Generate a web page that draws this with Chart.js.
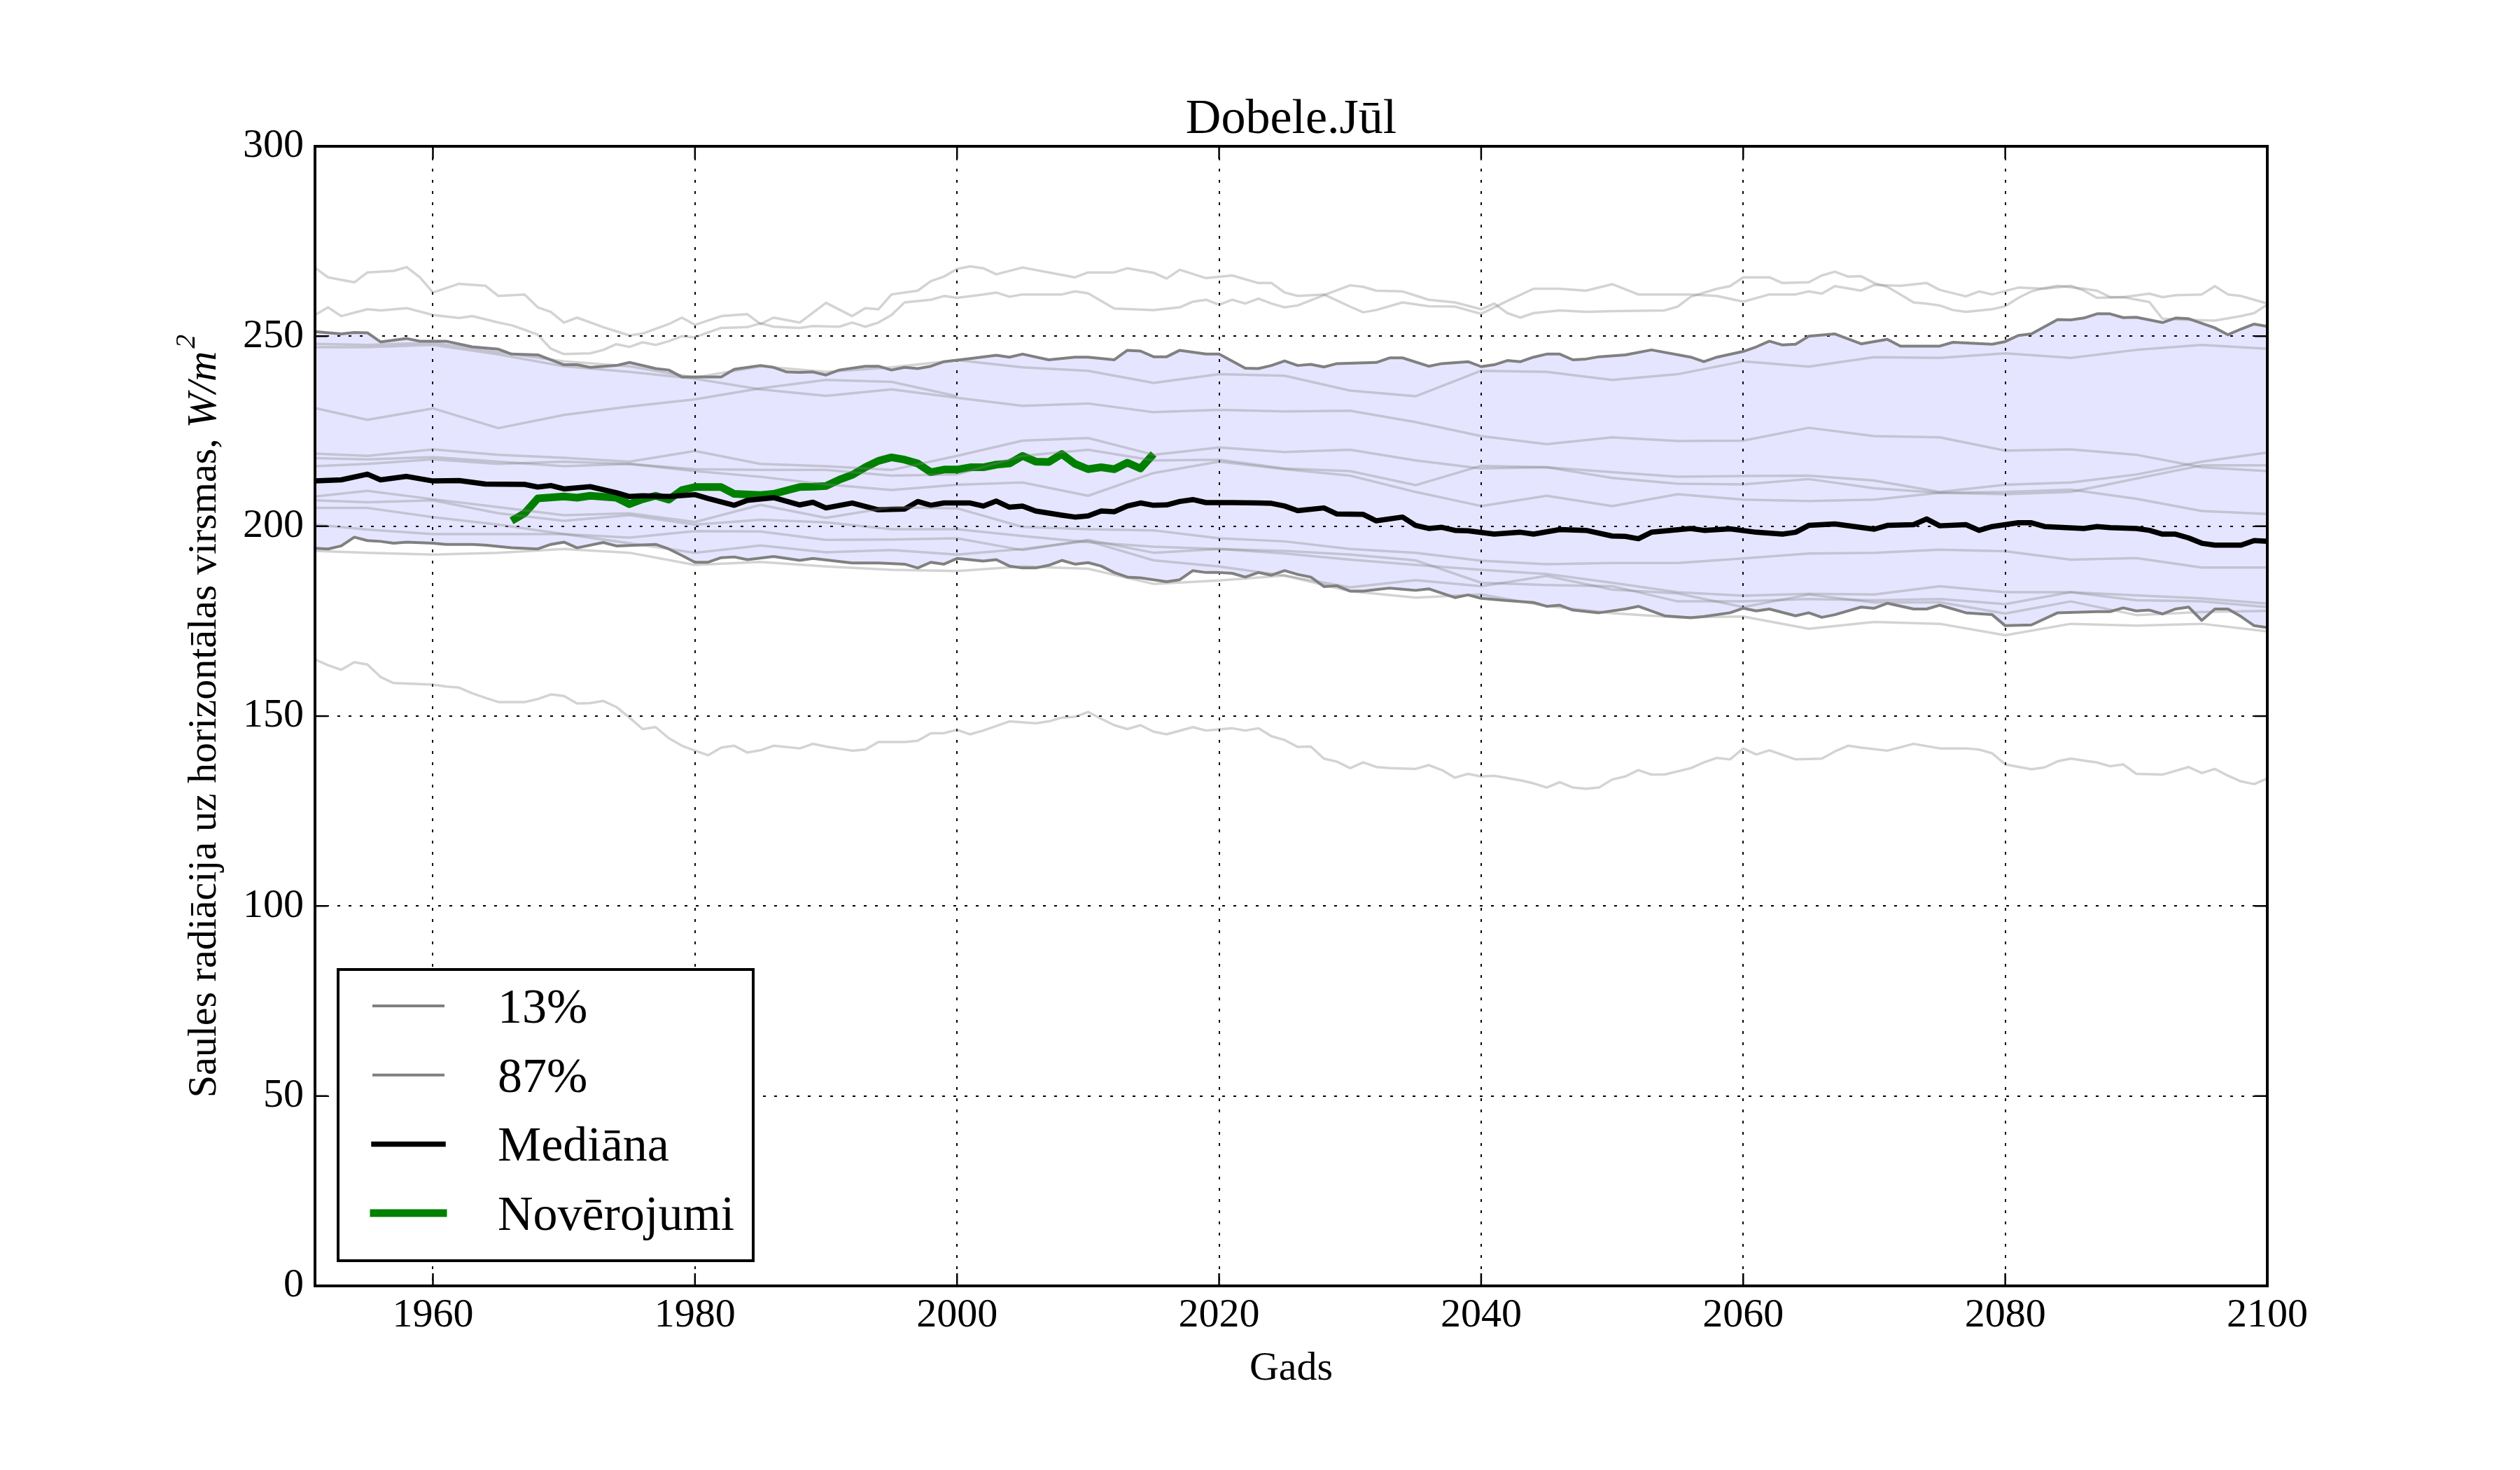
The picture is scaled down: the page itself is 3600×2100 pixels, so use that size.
<!DOCTYPE html>
<html>
<head>
<meta charset="utf-8">
<title>Dobele.Jūl</title>
<script src="https://cdn.jsdelivr.net/npm/chart.js@4.4.0/dist/chart.umd.min.js"></script>
<style>
  html, body { margin: 0; padding: 0; background: #fff; }
  #wrap { width: 3600px; height: 2100px; }
</style>
</head>
<body>
<div id="wrap"><canvas id="chart" width="3600" height="2100"></canvas></div>
<script>
// texts
const TITLE = 'Dobele.Jūl';
const X_LABEL = 'Gads';
const Y_LABEL = 'Saules radiācija uz horizontālas virsmas, ';
const Y_UNIT = 'W/m';
const Y_UNIT_SUP = '2';
const LEGEND_LABELS = ['13%', '87%', 'Mediāna', 'Novērojumi'];

// axes
const X_MIN = 1951, X_MAX = 2100;
const X_TICKS = [1960, 1980, 2000, 2020, 2040, 2060, 2080, 2100];
const Y_TICKS = [0, 50, 100, 150, 200, 250, 300];

// ensemble members read every 5 years
const MEMBER_YEARS = [1951, 1955, 1960, 1965, 1970, 1975, 1980, 1985, 1990, 1995, 2000,
  2005, 2010, 2015, 2020, 2025, 2030, 2035, 2040, 2045, 2050,
  2055, 2060, 2065, 2070, 2075, 2080, 2085, 2090, 2095, 2100];
const MEMBER_U0 = [248.0, 247.7, 248.3, 245.8, 243.4, 242.1, 239.1, 242.1, 240.6, 241.8, 243.7,
  241.8, 240.9, 237.7, 240.0, 239.6, 235.7, 234.2, 240.9, 240.6, 238.5,
  240.0, 243.4, 242.0, 244.5, 244.3, 245.5, 244.3, 246.4, 247.7, 246.7];
const MEMBER_U1 = [247.1, 247.1, 247.7, 245.2, 242.1, 240.6, 238.8, 236.0, 234.3, 236.0, 233.8,
  231.7, 232.3, 230.0, 230.6, 230.2, 230.4, 227.4, 223.7, 221.6, 223.4,
  222.4, 222.5, 225.9, 223.7, 223.4, 219.9, 220.2, 218.8, 215.5, 214.5];
const MEMBER_U2 = [231.1, 228.0, 231.0, 225.8, 229.3, 231.5, 233.4, 236.3, 238.5, 238.0, 234.2];
const MEMBER_M1 = [219.1, 218.5, 220.2, 218.8, 218.0, 217.0, 219.8, 216.4, 215.8, 214.8, 218.5,
  222.5, 223.2, 218.8, 220.7, 219.5, 220.1, 217.3, 215.2, 215.5, 212.7,
  211.2, 211.0, 212.4, 210.0, 208.8, 209.0, 209.6, 207.2, 204.0, 203.2];
const MEMBER_M2 = [217.9, 217.6, 218.2, 217.0, 215.8, 216.4, 215.0, 214.8, 214.8, 213.3, 213.6,
  218.5, 220.1, 217.3, 217.5, 215.2, 214.5, 210.8, 215.9, 215.5, 214.2,
  213.0, 213.2, 213.3, 212.0, 209.0, 210.9, 211.5, 213.6, 217.0, 219.4];
const MEMBER_M3 = [215.8, 216.4, 217.6, 216.4, 217.0, 216.4, 214.5, 213.0, 211.0, 209.5, 210.9,
  211.5, 208.0, 214.0, 217.0, 215.0, 213.3, 209.0, 205.3, 208.0, 205.3,
  208.4, 207.0, 206.6, 207.0, 208.8, 208.4, 209.0, 212.5, 216.0, 216.0];
const MEMBER_D1 = [207.8, 209.3, 207.1, 205.0, 202.9, 203.4, 201.1, 205.6, 202.2, 205.0, 204.7,
  199.8, 199.2, 198.9, 196.8, 196.0, 194.0, 193.0, 190.9, 190.0, 190.3,
  190.3, 191.5, 192.8, 193.0, 193.8, 193.4, 191.2, 191.6, 189.1, 189.1];
const MEMBER_D2 = [206.8, 206.3, 206.8, 203.4, 201.4, 202.9, 200.4, 201.7, 201.0, 199.2, 199.2,
  197.4, 195.8, 194.6, 194.0, 192.8, 191.2, 189.8, 188.5, 187.4, 185.1,
  182.6, 181.7, 182.2, 182.0, 184.2, 182.6, 182.6, 181.8, 181.0, 179.6];
const MEMBER_D3 = [204.8, 204.8, 202.4, 200.4, 197.9, 197.0, 198.7, 198.6, 196.4, 196.5, 196.8,
  193.7, 196.4, 193.0, 194.0, 193.5, 192.5, 191.0, 185.1, 184.5, 184.2,
  180.2, 180.2, 180.8, 180.5, 180.8, 179.5, 182.6, 180.5, 180.2, 178.7];
const MEMBER_D4 = [200.4, 199.1, 197.9, 197.9, 197.9, 195.5, 193.0, 194.9, 193.1, 193.7, 192.5,
  194.0, 196.1, 191.0, 189.4, 187.0, 183.9, 185.8, 184.2, 186.9, 183.3,
  182.3, 178.7, 182.0, 179.9, 180.0, 177.0, 180.2, 176.6, 177.4, 177.7];
const MEMBER_D5 = [193.5, 193.0, 192.5, 193.0, 194.0, 193.0, 189.8, 190.6, 189.4, 188.5, 188.2,
  189.4, 188.8, 184.8, 185.7, 187.0, 182.9, 181.2, 182.0, 179.0, 177.1,
  176.0, 176.2, 173.0, 174.8, 174.3, 171.3, 174.3, 173.8, 174.3, 172.3];

// outer members, [year, value]
const MEMBER_TOP_A = [[1951,268.0],[1952,265.5],[1954,264.2],[1955,266.8],[1957,267.2],[1958,268.2],[1959,265.5],[1960,261.5],
  [1962,263.8],[1964,263.3],[1965,260.6],[1967,261.0],[1968,257.6],[1969,256.4],[1970,253.6],[1971,254.9],
  [1973,252.4],[1975,250.2],[1976,250.7],[1978,253.2],[1979,254.9],[1980,253.0],[1982,255.3],[1984,255.8],
  [1985,253.2],[1986,254.9],[1988,253.6],[1990,258.8],[1992,255.3],[1993,257.4],[1994,257.1],[1995,261.0],
  [1997,262.0],[1998,264.5],[1999,265.7],[2000,267.7],[2001,268.4],[2002,267.9],[2003,266.3],[2005,268.1],
  [2007,266.8],[2009,265.5],[2010,266.8],[2012,266.8],[2013,267.9],[2015,266.7],[2016,265.2],[2017,267.5],
  [2019,265.3],[2021,266.0],[2023,264.0],[2024,264.0],[2025,261.5],[2026,260.6],[2028,261.0],[2030,257.8],
  [2031,256.3],[2032,256.9],[2034,258.9],[2036,257.9],[2038,257.8],[2040,255.9],[2042,259.3],[2044,262.5],
  [2046,262.5],[2048,262.0],[2050,263.7],[2052,261.0],[2056,261.0],[2058,260.6],[2060,259.1],[2062,261.0],
  [2064,261.0],[2065,261.8],[2066,261.2],[2067,263.2],[2069,262.0],[2070,263.5],[2072,263.3],[2074,264.0],
  [2075,262.2],[2077,260.5],[2078,261.8],[2079,261.0],[2081,262.8],[2083,262.5],[2085,263.3],[2086,262.0],
  [2087,260.1],[2089,260.3],[2091,259.0],[2092,254.6],[2094,254.3],[2096,254.1],[2098,255.3],[2099,256.1],[2100,258.3]];
const MEMBER_TOP_B = [[1951,255.6],[1952,257.6],[1953,255.3],[1955,257.1],[1956,256.8],[1958,257.4],[1960,255.6],[1962,254.8],
  [1963,255.3],[1965,253.6],[1966,252.9],[1967,251.7],[1968,250.4],[1969,246.7],[1970,245.3],[1972,245.5],
  [1973,246.4],[1974,247.9],[1975,247.2],[1976,248.4],[1977,247.7],[1978,248.7],[1979,250.0],[1980,249.7],
  [1981,251.0],[1982,252.2],[1984,252.4],[1985,253.4],[1986,252.5],[1988,252.2],[1989,252.7],[1991,252.5],
  [1992,253.6],[1993,252.5],[1994,253.6],[1995,255.6],[1996,258.9],[1998,259.6],[1999,260.6],[2000,260.1],
  [2002,261.0],[2003,261.5],[2004,260.4],[2005,261.0],[2008,261.0],[2009,261.8],[2010,261.3],[2012,257.3],
  [2015,256.9],[2017,257.6],[2018,259.1],[2019,259.6],[2020,258.3],[2021,259.6],[2022,258.6],[2023,259.9],
  [2024,258.6],[2025,257.6],[2026,258.1],[2028,260.8],[2030,263.4],[2031,263.0],[2032,262.0],[2034,261.8],
  [2035,260.7],[2036,259.6],[2038,258.9],[2040,257.1],[2041,258.6],[2042,256.1],[2043,254.9],[2044,256.1],
  [2046,256.8],[2048,256.4],[2050,256.6],[2054,256.8],[2055,257.8],[2056,260.4],[2058,262.5],[2059,263.2],
  [2060,265.5],[2062,265.5],[2063,264.0],[2065,264.2],[2066,266.0],[2067,267.0],[2068,265.7],[2069,265.8],
  [2070,264.0],[2071,263.0],[2072,261.0],[2073,258.9],[2074,258.6],[2075,258.1],[2076,256.9],[2077,256.4],
  [2079,257.1],[2080,257.9],[2081,260.1],[2082,261.8],[2083,262.7],[2084,263.3],[2086,262.5],[2087,262.0],
  [2088,260.3],[2089,260.3],[2091,261.2],[2092,260.3],[2093,260.8],[2095,261.0],[2096,263.2],[2097,261.0],
  [2098,260.6],[2099,259.6],[2100,258.6]];
const MEMBER_LOW = [[1951,164.9],[1952,163.4],[1953,162.2],[1954,164.2],[1955,163.6],[1956,160.3],[1957,158.7],[1960,158.3],
  [1961,157.8],[1962,157.5],[1963,156.0],[1964,154.8],[1965,153.7],[1967,153.7],[1968,154.5],[1969,155.7],
  [1970,155.3],[1971,153.3],[1972,153.4],[1973,154.0],[1974,152.4],[1975,149.6],[1976,146.6],[1977,147.1],
  [1978,144.2],[1979,142.2],[1980,140.9],[1981,139.7],[1982,141.7],[1983,142.2],[1984,140.4],[1985,141.0],
  [1986,142.2],[1988,141.5],[1989,142.7],[1990,142.0],[1992,140.9],[1993,141.2],[1994,143.2],[1996,143.2],
  [1997,143.5],[1998,145.5],[1999,145.5],[2000,146.4],[2001,145.2],[2002,146.2],[2004,148.6],[2006,148.1],
  [2007,148.6],[2008,149.6],[2009,149.8],[2010,151.1],[2011,149.3],[2012,147.6],[2013,146.6],[2014,147.6],
  [2015,145.9],[2016,145.2],[2018,147.1],[2019,146.2],[2021,146.8],[2022,146.2],[2023,146.8],[2024,144.7],
  [2025,143.7],[2026,141.9],[2027,142.0],[2028,138.8],[2029,138.0],[2030,136.3],[2031,137.8],[2032,136.6],
  [2033,136.3],[2035,136.1],[2036,137.1],[2037,135.8],[2038,133.8],[2039,134.8],[2040,134.1],[2041,134.3],
  [2043,133.1],[2044,132.3],[2045,131.2],[2046,132.6],[2047,131.2],[2048,130.9],[2049,131.2],[2050,133.3],
  [2051,134.1],[2052,135.8],[2053,134.6],[2054,134.6],[2056,136.3],[2057,137.8],[2058,139.0],[2059,138.6],
  [2060,141.5],[2061,139.9],[2062,141.0],[2064,138.6],[2066,138.8],[2067,140.7],[2068,142.2],[2069,141.7],
  [2071,140.9],[2073,142.7],[2075,141.5],[2077,141.5],[2078,141.2],[2079,140.2],[2080,137.3],[2082,136.0],
  [2083,136.5],[2084,138.1],[2085,138.8],[2087,137.8],[2088,136.8],[2089,137.3],[2090,134.8],[2092,134.6],
  [2093,135.6],[2094,136.6],[2095,135.0],[2096,136.1],[2097,134.3],[2098,132.8],[2099,132.1],[2100,133.6]];

// percentiles
const P87 = [[1951,251.2],[1953,250.6],[1954,251.0],[1955,250.9],[1956,248.5],[1958,249.4],[1959,248.7],[1961,248.7],
  [1963,247.2],[1965,246.6],[1966,245.3],[1968,245.1],[1970,242.5],[1971,242.5],[1972,241.8],[1974,242.3],
  [1975,243.1],[1977,241.5],[1978,241.1],[1979,239.3],[1982,239.3],[1983,241.3],[1985,242.3],[1986,241.8],
  [1987,240.6],[1988,240.5],[1989,240.6],[1990,239.8],[1991,241.1],[1993,242.1],[1994,242.1],[1995,241.1],
  [1996,241.8],[1997,241.5],[1998,242.1],[1999,243.3],[2001,244.1],[2003,245.0],[2004,244.5],[2005,245.3],
  [2007,243.8],[2009,244.5],[2010,244.5],[2012,243.8],[2013,246.3],[2014,246.1],[2015,244.6],[2016,244.6],
  [2017,246.3],[2019,245.3],[2020,245.3],[2022,241.6],[2023,241.5],[2024,242.3],[2025,243.5],[2026,242.3],
  [2027,242.6],[2028,241.9],[2029,242.8],[2032,243.1],[2033,244.3],[2034,244.3],[2036,242.1],[2037,242.8],
  [2039,243.3],[2040,242.0],[2041,242.5],[2042,243.6],[2043,243.3],[2044,244.5],[2045,245.3],[2046,245.3],
  [2047,243.8],[2048,244.0],[2049,244.6],[2051,245.1],[2053,246.4],[2056,244.5],[2057,243.3],[2058,244.5],
  [2060,246.0],[2061,247.2],[2062,248.7],[2063,247.7],[2064,247.9],[2065,250.0],[2067,250.6],[2069,248.0],
  [2071,249.2],[2072,247.4],[2075,247.4],[2076,248.4],[2079,247.9],[2080,248.6],[2081,250.2],[2082,250.6],
  [2084,254.4],[2085,254.3],[2086,254.8],[2087,255.9],[2088,255.9],[2089,254.9],[2090,255.0],[2092,253.6],
  [2093,254.8],[2094,254.6],[2096,252.2],[2097,250.4],[2098,251.9],[2099,253.2],[2100,252.6]];
const P13 = [[1951,194.2],[1952,194.0],[1953,194.8],[1954,197.1],[1955,196.2],[1956,196.0],[1957,195.5],[1958,195.8],
  [1960,195.5],[1961,195.2],[1963,195.2],[1964,195.0],[1966,194.3],[1968,194.0],[1969,195.2],[1970,195.8],
  [1971,194.3],[1973,195.7],[1974,194.8],[1977,195.2],[1978,194.0],[1979,192.3],[1980,190.5],[1981,190.5],
  [1982,191.7],[1983,191.9],[1984,191.2],[1986,192.0],[1988,191.0],[1989,191.5],[1992,190.3],[1994,190.3],
  [1996,190.0],[1997,189.0],[1998,190.5],[1999,190.0],[2000,191.5],[2002,190.8],[2003,191.2],[2004,189.5],
  [2005,189.0],[2006,189.0],[2007,189.7],[2008,191.0],[2009,190.0],[2010,190.4],[2011,189.5],[2012,187.8],
  [2013,186.6],[2014,186.4],[2016,185.4],[2017,185.9],[2018,188.3],[2019,187.8],[2020,187.8],[2021,187.6],
  [2022,186.6],[2023,187.8],[2024,187.1],[2025,188.3],[2026,187.3],[2027,186.6],[2028,184.1],[2029,184.3],
  [2030,182.9],[2031,182.9],[2032,183.3],[2033,183.7],[2034,183.4],[2035,183.1],[2036,183.5],[2038,181.2],
  [2039,181.9],[2040,181.0],[2042,180.4],[2044,179.9],[2045,178.9],[2046,179.2],[2047,177.9],[2049,177.2],
  [2051,178.2],[2052,178.9],[2054,176.4],[2056,175.9],[2057,176.2],[2059,177.2],[2060,178.4],[2061,177.7],
  [2062,178.2],[2064,176.4],[2065,177.2],[2066,176.0],[2067,176.7],[2069,178.7],[2070,178.4],[2071,179.7],
  [2073,178.2],[2074,178.2],[2075,179.2],[2077,177.2],[2079,176.7],[2080,173.8],[2082,174.0],[2084,177.2],
  [2087,177.5],[2088,177.5],[2089,178.5],[2090,177.7],[2091,177.9],[2092,176.9],[2093,178.2],[2094,178.7],
  [2095,175.2],[2096,178.2],[2097,178.2],[2098,176.2],[2099,173.8],[2100,173.3]];

const MEDIAN = [[1951,211.9],[1953,212.2],[1955,213.7],[1956,212.2],[1958,213.1],[1960,211.9],[1962,212.0],[1964,211.1],
  [1967,211.0],[1968,210.3],[1969,210.7],[1970,209.8],[1972,210.4],[1974,208.8],[1975,207.8],[1976,208.0],
  [1978,207.8],[1980,208.3],[1981,207.3],[1983,205.5],[1984,206.8],[1986,207.5],[1988,205.6],[1989,206.3],
  [1990,204.8],[1992,206.1],[1994,204.3],[1996,204.5],[1997,206.5],[1998,205.5],[1999,206.1],[2001,206.1],
  [2002,205.3],[2003,206.6],[2004,205.0],[2005,205.3],[2006,204.0],[2008,202.9],[2009,202.4],[2010,202.7],
  [2011,204.0],[2012,203.8],[2013,205.3],[2014,206.1],[2015,205.5],[2016,205.6],[2017,206.5],[2018,207.0],
  [2019,206.2],[2021,206.2],[2023,206.1],[2024,206.0],[2025,205.3],[2026,204.1],[2028,204.8],[2029,203.2],
  [2031,203.1],[2032,201.4],[2034,202.4],[2035,200.2],[2036,199.4],[2037,199.7],[2038,198.9],[2039,198.8],
  [2041,197.9],[2043,198.4],[2044,197.9],[2046,199.1],[2048,198.9],[2050,197.4],[2051,197.3],[2052,196.7],
  [2053,198.4],[2056,199.4],[2057,198.9],[2059,199.3],[2061,198.4],[2063,197.9],[2064,198.4],[2065,200.2],
  [2067,200.6],[2070,199.2],[2071,200.2],[2073,200.4],[2074,201.9],[2075,200.1],[2077,200.4],[2078,198.9],
  [2079,199.9],[2081,200.9],[2082,200.9],[2083,199.9],[2086,199.4],[2087,199.9],[2088,199.6],[2090,199.4],
  [2091,198.9],[2092,197.9],[2093,197.9],[2094,196.9],[2095,195.5],[2096,195.0],[2098,195.0],[2099,196.2],[2100,196.0]];

const OBSERVED = [[1966,201.4],[1967,203.4],[1968,207.3],[1970,207.8],[1971,207.5],[1972,208.0],[1974,207.5],[1975,205.8],
  [1976,207.1],[1977,208.0],[1978,207.0],[1979,209.5],[1980,210.3],[1982,210.3],[1983,208.5],[1985,208.2],
  [1986,208.5],[1988,210.3],[1989,210.4],[1990,210.6],[1991,212.2],[1992,213.5],[1993,215.5],[1994,217.2],
  [1995,218.1],[1996,217.5],[1997,216.5],[1998,214.2],[1999,214.9],[2000,214.9],[2001,215.5],[2002,215.5],
  [2003,216.2],[2004,216.5],[2005,218.5],[2006,217.0],[2007,216.9],[2008,219.0],[2009,216.4],[2010,215.0],
  [2011,215.5],[2012,215.0],[2013,216.7],[2014,215.2],[2015,219.0]];

const FONT = 'Liberation Serif';
const MEMBER_COLOR = 'rgba(128,128,128,0.35)';
const PCT_COLOR = '#808080';
const FILL_COLOR = 'rgba(0,0,255,0.1)';
const OBS_COLOR = '#008000';

const pairs = list => list.map(([x, y]) => ({ x, y }));
const onGrid = vals => vals.map((y, i) => ({ x: MEMBER_YEARS[i], y }));

function line(label, data, color, width) {
  return {
    label, data, borderColor: color, borderWidth: width,
    pointRadius: 0, tension: 0, fill: false, spanGaps: false,
    borderJoinStyle: 'round', borderCapStyle: 'butt'
  };
}

const datasets = [
  line('m_top_a', pairs(MEMBER_TOP_A), MEMBER_COLOR, 3.5),
  line('m_top_b', pairs(MEMBER_TOP_B), MEMBER_COLOR, 3.5),
  line('m_low', pairs(MEMBER_LOW), MEMBER_COLOR, 3.5),
  ...[MEMBER_U0, MEMBER_U1, MEMBER_U2, MEMBER_M1, MEMBER_M2, MEMBER_M3,
      MEMBER_D1, MEMBER_D2, MEMBER_D3, MEMBER_D4, MEMBER_D5]
    .map((m, i) => line('m' + i, onGrid(m), MEMBER_COLOR, 3.5)),
];
const iP13 = datasets.push(line(LEGEND_LABELS[0], pairs(P13), PCT_COLOR, 4)) - 1;
const iP87 = datasets.push(line(LEGEND_LABELS[1], pairs(P87), PCT_COLOR, 4)) - 1;
datasets.push(line(LEGEND_LABELS[2], pairs(MEDIAN), '#000', 7.5));
datasets.push(line(LEGEND_LABELS[3], pairs(OBSERVED), OBS_COLOR, 11));

const legendStyles = [
  { color: PCT_COLOR, width: 4 },
  { color: PCT_COLOR, width: 4 },
  { color: '#000', width: 7.5 },
  { color: OBS_COLOR, width: 11 }
];

// band between the two percentile lines, under all lines
const bandFill = {
  id: 'bandFill',
  beforeDatasetsDraw(chart) {
    const up = chart.getDatasetMeta(iP87).data;
    const lo = chart.getDatasetMeta(iP13).data;
    const a = chart.chartArea, ctx = chart.ctx;
    ctx.save();
    ctx.beginPath();
    ctx.rect(a.left, a.top, a.right - a.left, a.bottom - a.top);
    ctx.clip();
    ctx.beginPath();
    up.forEach((p, i) => i ? ctx.lineTo(p.x, p.y) : ctx.moveTo(p.x, p.y));
    for (let i = lo.length - 1; i >= 0; i--) ctx.lineTo(lo[i].x, lo[i].y);
    ctx.closePath();
    ctx.fillStyle = FILL_COLOR;
    ctx.fill();
    ctx.restore();
  }
};

// frame, inward ticks on all sides, titles and legend
const decor = {
  id: 'decor',
  afterDraw(chart) {
    const ctx = chart.ctx, a = chart.chartArea;
    const xs = chart.scales.x, ys = chart.scales.y;
    const cx = (a.left + a.right) / 2, cy = (a.top + a.bottom) / 2;
    ctx.save();
    ctx.strokeStyle = '#000';
    ctx.lineWidth = 2.5;
    ctx.beginPath();
    X_TICKS.forEach(v => {
      const x = xs.getPixelForValue(v);
      ctx.moveTo(x, a.bottom); ctx.lineTo(x, a.bottom - 18);
      ctx.moveTo(x, a.top); ctx.lineTo(x, a.top + 18);
    });
    Y_TICKS.forEach(v => {
      const y = ys.getPixelForValue(v);
      ctx.moveTo(a.left, y); ctx.lineTo(a.left + 18, y);
      ctx.moveTo(a.right, y); ctx.lineTo(a.right - 18, y);
    });
    ctx.stroke();
    ctx.lineWidth = 4;
    ctx.strokeRect(a.left, a.top, a.right - a.left, a.bottom - a.top);

    ctx.fillStyle = '#000';
    ctx.textBaseline = 'alphabetic';
    ctx.textAlign = 'center';
    ctx.font = `70px "${FONT}"`;
    ctx.fillText(TITLE, cx, a.top - 19);
    ctx.font = `58px "${FONT}"`;
    ctx.fillText(X_LABEL, cx, a.bottom + 134);

    // y label with italic unit
    ctx.save();
    ctx.translate(308, cy);
    ctx.rotate(-Math.PI / 2);
    ctx.textAlign = 'left';
    const fReg = `58px "${FONT}"`, fIt = `italic 60px "${FONT}"`, fSup = `italic 40px "${FONT}"`;
    ctx.font = fReg; const w1 = ctx.measureText(Y_LABEL).width;
    ctx.font = fIt; const w2 = ctx.measureText(Y_UNIT).width;
    ctx.font = fSup; const w3 = ctx.measureText(Y_UNIT_SUP).width;
    let x = -(w1 + w2 + w3 + 4) / 2;
    ctx.font = fReg; ctx.fillText(Y_LABEL, x, 0); x += w1;
    ctx.font = fIt; ctx.fillText(Y_UNIT, x, 0); x += w2 + 4;
    ctx.font = fSup; ctx.fillText(Y_UNIT_SUP, x, -30);
    ctx.restore();

    // legend
    const bx = 483, by = 1385, bw = 593, bh = 416;
    ctx.fillStyle = '#fff';
    ctx.fillRect(bx, by, bw, bh);
    ctx.lineWidth = 4;
    ctx.strokeStyle = '#000';
    ctx.strokeRect(bx, by, bw, bh);
    ctx.font = `70px "${FONT}"`;
    ctx.textAlign = 'left';
    LEGEND_LABELS.forEach((lab, i) => {
      const y = 1437 + i * 98.7;
      ctx.strokeStyle = legendStyles[i].color;
      ctx.lineWidth = legendStyles[i].width;
      ctx.lineCap = 'square';
      ctx.beginPath();
      ctx.moveTo(534, y); ctx.lineTo(633, y);
      ctx.stroke();
      ctx.fillStyle = '#000';
      ctx.fillText(lab, 711, y + 24);
    });
    ctx.restore();
  }
};

const tickFont = { family: FONT, size: 58 };

new Chart(document.getElementById('chart'), {
  type: 'line',
  data: { datasets },
  options: {
    responsive: false,
    animation: false,
    devicePixelRatio: 1,
    events: [],
    layout: { padding: { left: 0, right: 361, top: 209, bottom: 0 } },
    plugins: { legend: { display: false }, title: { display: false }, tooltip: { enabled: false } },
    scales: {
      x: {
        type: 'linear', min: X_MIN, max: X_MAX,
        afterBuildTicks: s => { s.ticks = X_TICKS.map(value => ({ value })); },
        afterFit: s => { s.height = 263; },
        ticks: { font: tickFont, color: '#000', padding: 8, maxRotation: 0, autoSkip: false, callback: v => String(v) },
        grid: { color: '#000', lineWidth: 2, drawTicks: false },
        border: { display: false, dash: [4, 12] }
      },
      y: {
        type: 'linear', min: 0, max: 300,
        afterBuildTicks: s => { s.ticks = Y_TICKS.map(value => ({ value })); },
        afterFit: s => { s.width = 450; },
        ticks: { font: tickFont, color: '#000', padding: 16, callback: v => String(v) },
        grid: { color: '#000', lineWidth: 2, drawTicks: false },
        border: { display: false, dash: [4, 12] }
      }
    }
  },
  plugins: [bandFill, decor]
});
</script>
</body>
</html>
